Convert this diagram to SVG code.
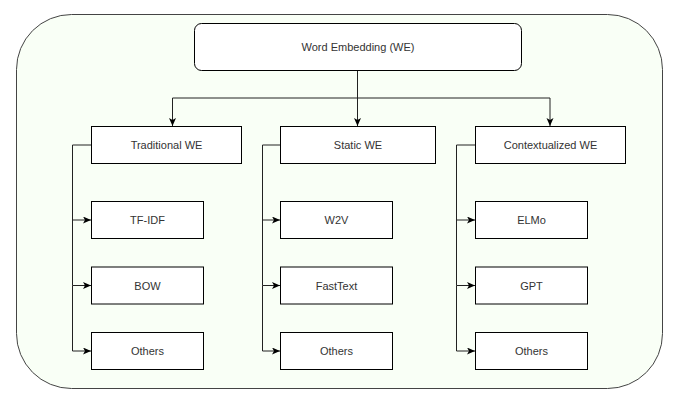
<svg xmlns="http://www.w3.org/2000/svg" width="690" height="406" viewBox="0 0 690 406">
<defs>
<marker id="arr" markerUnits="userSpaceOnUse" markerWidth="9" markerHeight="8" refX="8" refY="3.5" orient="auto">
<path d="M0,0 L8,3.5 L0,7 L2,3.5 Z" fill="#000"/>
</marker>
<style>
.box{fill:#fff;stroke:#000;stroke-width:1}
.lbl{font-family:"Liberation Sans",Arial,sans-serif;font-size:11px;fill:#333;text-anchor:middle;dominant-baseline:central}
.c{fill:none;stroke:#222;stroke-width:1;marker-end:url(#arr)}
</style>
</defs>
<rect id="container" x="16.5" y="14.5" width="646" height="374" rx="55" ry="55" fill="#F9FFF6" stroke="#444" stroke-width="1"/>
<g id="connectors">
<path class="c" d="M357.5,70.5 V126"/>
<path class="c" d="M357.5,98 H172.5 V126"/>
<path class="c" d="M357.5,98 H550 V126"/>
<path class="c" d="M91.5,145 H72.5 V220 H91"/>
<path class="c" d="M72.5,220 V285.5 H91"/>
<path class="c" d="M72.5,285.5 V351 H91"/>
<path class="c" d="M280.5,145 H262.5 V220 H280"/>
<path class="c" d="M262.5,220 V285.5 H280"/>
<path class="c" d="M262.5,285.5 V351 H280"/>
<path class="c" d="M475.5,145 H456.5 V220 H475"/>
<path class="c" d="M456.5,220 V285.5 H475"/>
<path class="c" d="M456.5,285.5 V351 H475"/>
</g>
<g id="we"><rect class="box" x="194.5" y="23.5" width="327" height="47" rx="7"/><text class="lbl" x="358" y="47">Word Embedding (WE)</text></g>
<g id="traditional"><rect class="box" x="91.5" y="126.5" width="150" height="37"/><text class="lbl" x="166.5" y="145">Traditional WE</text></g>
<g id="tfidf"><rect class="box" x="91.5" y="201.5" width="112" height="37"/><text class="lbl" x="147.5" y="220">TF-IDF</text></g>
<g id="bow"><rect class="box" x="91.5" y="267" width="112" height="37"/><text class="lbl" x="147.5" y="285.5">BOW</text></g>
<g id="others1"><rect class="box" x="91.5" y="332.5" width="112" height="37"/><text class="lbl" x="147.5" y="351">Others</text></g>
<g id="static"><rect class="box" x="280.5" y="126.5" width="155" height="37"/><text class="lbl" x="358" y="145">Static WE</text></g>
<g id="w2v"><rect class="box" x="280.5" y="201.5" width="112" height="37"/><text class="lbl" x="336.5" y="220">W2V</text></g>
<g id="fasttext"><rect class="box" x="280.5" y="267" width="112" height="37"/><text class="lbl" x="336.5" y="285.5">FastText</text></g>
<g id="others2"><rect class="box" x="280.5" y="332.5" width="112" height="37"/><text class="lbl" x="336.5" y="351">Others</text></g>
<g id="contextualized"><rect class="box" x="475.5" y="126.5" width="150" height="37"/><text class="lbl" x="550.5" y="145">Contextualized WE</text></g>
<g id="elmo"><rect class="box" x="475.5" y="201.5" width="112" height="37"/><text class="lbl" x="531.5" y="220">ELMo</text></g>
<g id="gpt"><rect class="box" x="475.5" y="267" width="112" height="37"/><text class="lbl" x="531.5" y="285.5">GPT</text></g>
<g id="others3"><rect class="box" x="475.5" y="332.5" width="112" height="37"/><text class="lbl" x="531.5" y="351">Others</text></g>
</svg>
